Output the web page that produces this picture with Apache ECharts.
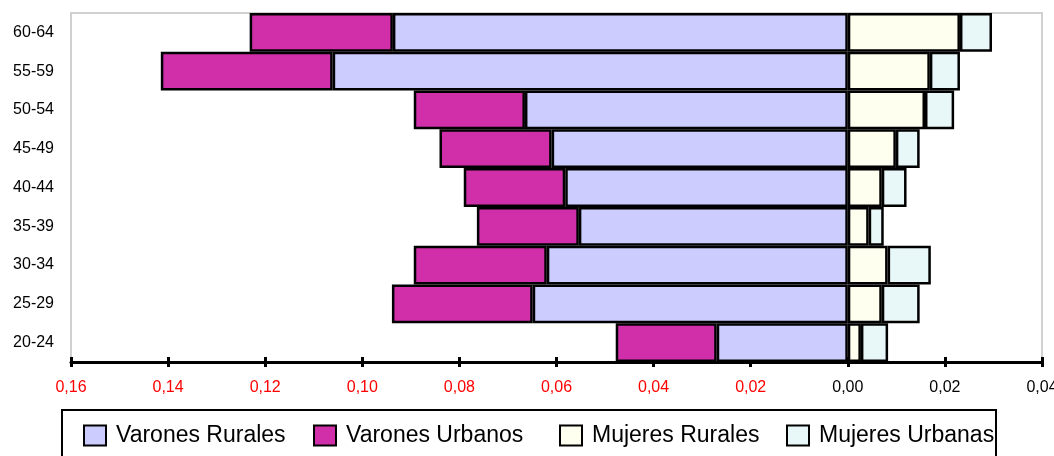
<!DOCTYPE html>
<html>
<head>
<meta charset="utf-8">
<script src="https://cdn.jsdelivr.net/npm/echarts@6/dist/echarts.min.js"></script>
<style>
  html, body { margin: 0; padding: 0; background: #fff; }
  #chart { width: 1054px; height: 456px; }
</style>
</head>
<body>
<div id="chart"></div>
<script>
// age groups, bottom to top
var categories = ['20-24', '25-29', '30-34', '35-39', '40-44', '45-49', '50-54', '55-59', '60-64'];

// shares (men drawn to the left)
var varonesRurales = [0.0270, 0.0649, 0.0620, 0.0554, 0.0582, 0.0610, 0.0665, 0.1061, 0.0937];
var varonesUrbanos = [0.0208, 0.0290, 0.0274, 0.0210, 0.0209, 0.0231, 0.0229, 0.0354, 0.0295];
var mujeresRurales = [0.0027, 0.0070, 0.0082, 0.0043, 0.0070, 0.0099, 0.0159, 0.0169, 0.0231];
var mujeresUrbanas = [0.0056, 0.0078, 0.0089, 0.0031, 0.0051, 0.0049, 0.0060, 0.0062, 0.0066];

var seriesNames = ['Varones Rurales', 'Varones Urbanos', 'Mujeres Rurales', 'Mujeres Urbanas'];
var seriesColors = ['#ccccff', '#d02fa9', '#fffff0', '#e8f8f8'];
var legendLeft = [83, 313, 559, 786];

var FONT = '"Liberation Sans", Arial, sans-serif';

function neg(arr) {
    return arr.map(function (v) { return -v; });
}

function makeBar(i, data) {
    return {
        name: seriesNames[i],
        type: 'bar',
        stack: 'total',
        barCategoryGap: '0%',
        data: data,
        itemStyle: {
            color: seriesColors[i],
            borderColor: '#000',
            borderWidth: 2.5
        }
    };
}

// one legend per item so each sits where the original puts it
var legends = seriesNames.map(function (name, i) {
    return {
        data: [name],
        left: legendLeft[i],
        top: 424,
        padding: 0,
        icon: 'rect',
        itemWidth: 22,
        itemHeight: 20,
        textStyle: {
            fontFamily: FONT,
            fontSize: 23,
            color: '#000',
            padding: [6, 0, 0, 5]
        }
    };
});

var chart = echarts.init(document.getElementById('chart'));

var option = {
    animation: false,
    backgroundColor: '#fff',
    grid: {
        left: 71,
        right: 12,
        top: 13,
        bottom: 94,
        outerBoundsMode: 'none',
        show: true,
        borderColor: '#d0d0d0',
        borderWidth: 2
    },
    legend: legends,
    graphic: [{
        type: 'rect',
        shape: { x: 62, y: 410, width: 934, height: 60 },
        style: { fill: null, stroke: '#000', lineWidth: 2 },
        silent: true
    }],
    xAxis: [{
        type: 'value',
        min: -0.16,
        max: 0.04,
        interval: 0.02,
        position: 'bottom',
        splitLine: { show: false },
        axisLine: { show: true, lineStyle: { color: '#000', width: 3 } },
        axisTick: { show: true, inside: false, length: 5, lineStyle: { color: '#000', width: 3 } },
        axisLabel: {
            margin: 18,
            fontFamily: FONT,
            fontSize: 16,
            formatter: function (v) {
                return Math.abs(v).toFixed(2).replace('.', ',');
            },
            color: function (v) {
                return Number(v) < -1e-9 ? '#ff0000' : '#000';
            }
        }
    }, {
        type: 'value',
        min: -0.16,
        max: 0.04,
        interval: 0.02,
        position: 'bottom',
        splitLine: { show: false },
        axisLine: { show: false },
        axisTick: { show: true, inside: true, length: 5, lineStyle: { color: '#000', width: 3 } },
        axisLabel: { show: false }
    }],
    yAxis: {
        type: 'category',
        data: categories,
        axisLine: { show: false },
        axisTick: { show: false },
        axisLabel: {
            margin: 17,
            fontFamily: FONT,
            fontSize: 16,
            color: '#000'
        }
    },
    series: [
        makeBar(0, neg(varonesRurales)),
        makeBar(1, neg(varonesUrbanos)),
        makeBar(2, mujeresRurales),
        makeBar(3, mujeresUrbanas)
    ]
};

chart.setOption(option);
</script>
</body>
</html>
